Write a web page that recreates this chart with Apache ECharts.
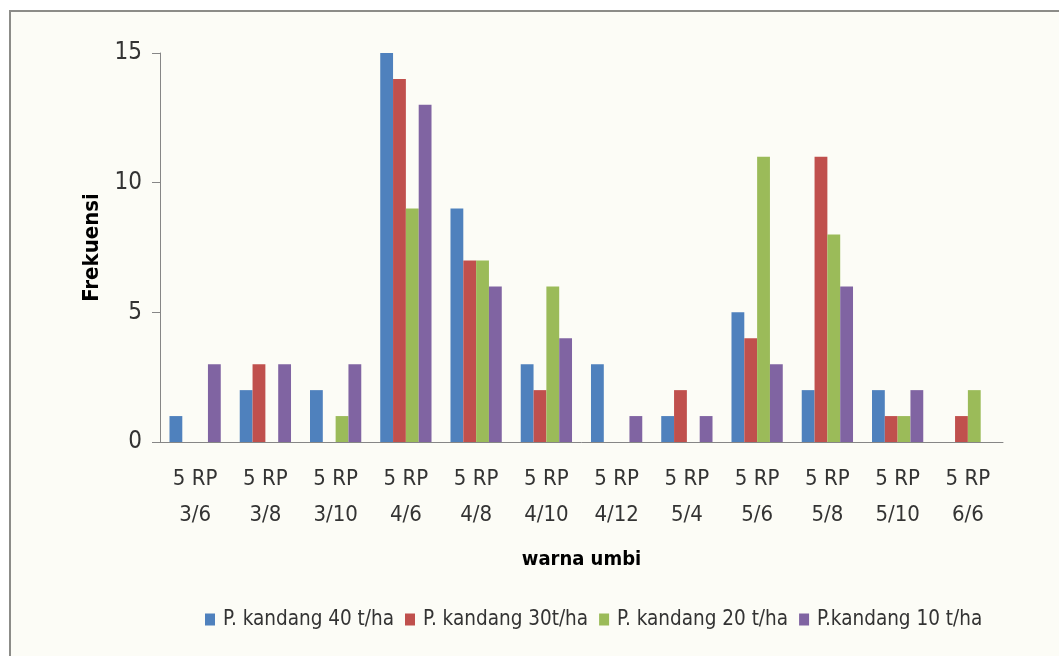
<!DOCTYPE html>
<html>
<head>
<meta charset="utf-8">
<script src="https://cdn.jsdelivr.net/npm/echarts@6/dist/echarts.min.js"></script>
<style>
  html, body { margin: 0; padding: 0; background: #ffffff; overflow: hidden; }
  #frame { position: absolute; left: 9px; top: 10px; width: 1100px; height: 700px;
           border: 2px solid #8c8c88; background: #fcfcf6; }
  #chart { position: absolute; left: 0; top: 0; width: 1059px; height: 656px; }
</style>
</head>
<body>
<div id="frame"></div>
<div id="chart"></div>
<script>
// Colour classes of the tubers (Munsell notation)
const categories = ['5 RP\n3/6', '5 RP\n3/8', '5 RP\n3/10', '5 RP\n4/6', '5 RP\n4/8', '5 RP\n4/10',
                    '5 RP\n4/12', '5 RP\n5/4', '5 RP\n5/6', '5 RP\n5/8', '5 RP\n5/10', '5 RP\n6/6'];
const seriesNames = ['P. kandang 40 t/ha', 'P. kandang 30t/ha', 'P. kandang 20 t/ha', 'P.kandang 10 t/ha'];
// Frequency per manure dose
const dose40 = [1, 2, 2, 15, 9, 3, 3, 1, 5, 2, 2, 0];
const dose30 = [0, 3, 0, 14, 7, 2, 0, 2, 4, 11, 1, 1];
const dose20 = [0, 0, 1, 9, 7, 6, 0, 0, 11, 8, 1, 2];
const dose10 = [3, 3, 3, 13, 6, 4, 1, 1, 3, 6, 2, 0];
const yTicks = [0, 5, 10, 15];

const colors = ['#4f81bd', '#c0504d', '#9bbb59', '#8064a2'];
const font = "'Liberation Sans Narrow', 'DejaVu Sans Condensed', sans-serif";

const chart = echarts.init(document.getElementById('chart'), null, { renderer: 'canvas' });
const values = [dose40, dose30, dose20, dose10];

chart.setOption({
  backgroundColor: 'transparent',
  animation: false,
  color: colors,
  grid: { left: 160, right: 56, top: 53, bottom: 214, containLabel: false },
  legend: {
    bottom: 21,
    left: 200,
    itemWidth: 10,
    itemHeight: 12,
    itemGap: 11,
    icon: 'rect',
    textStyle: { fontFamily: font, fontSize: 20.5, color: '#333333', padding: [0, 0, 0, 3] },
    data: seriesNames
  },
  xAxis: {
    type: 'category',
    data: categories,
    name: 'warna umbi',
    nameLocation: 'middle',
    nameGap: 108,
    nameTextStyle: { fontFamily: font, fontSize: 20, fontWeight: 'bold', color: '#000' },
    axisLine: { lineStyle: { color: '#868686', width: 1 } },
    axisTick: { show: false },
    axisLabel: { fontFamily: font, fontSize: 22, color: '#333333', lineHeight: 36, margin: 19 }
  },
  yAxis: {
    type: 'value',
    min: 0,
    max: 15,
    interval: 5,
    name: 'Frekuensi',
    nameLocation: 'middle',
    nameRotate: 90,
    nameGap: 52,
    nameTextStyle: { fontFamily: font, fontSize: 22, fontWeight: 'bold', color: '#000' },
    axisLine: { show: true, lineStyle: { color: '#868686', width: 1 } },
    axisTick: { show: true, length: 8, lineStyle: { color: '#868686' } },
    splitLine: { show: false },
    axisLabel: {
      fontFamily: font, fontSize: 24, color: '#333333', margin: 18,
      formatter: v => (yTicks.includes(v) ? String(v) : '')
    }
  },
  series: seriesNames.map((name, i) => ({
    name: name,
    type: 'bar',
    data: values[i],
    barGap: '0%',
    barCategoryGap: '27%'
  }))
});
</script>
</body>
</html>
